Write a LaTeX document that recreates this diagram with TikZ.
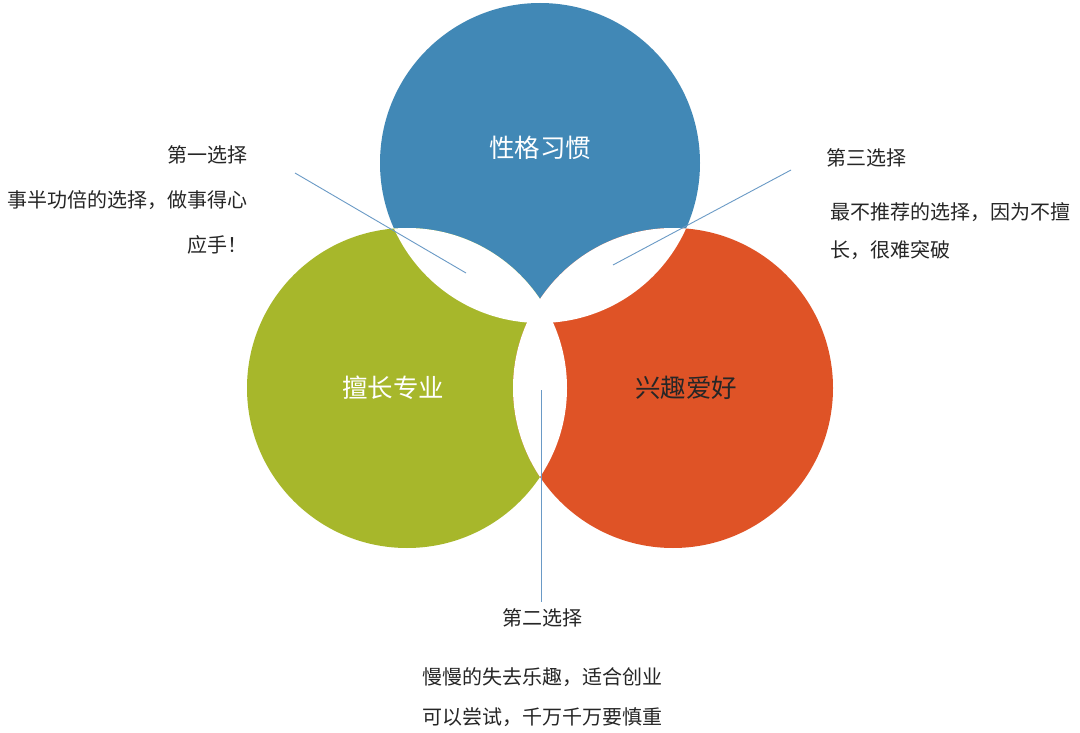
\documentclass[tikz,border=0pt]{standalone}
\usepackage{fontspec}
\setmainfont{Noto Sans CJK SC}
\definecolor{cblue}{HTML}{4188B6}
\definecolor{cgreen}{HTML}{A7B72B}
\definecolor{corange}{HTML}{DF5326}
\definecolor{cline}{HTML}{6A9AC6}
\definecolor{ctext}{HTML}{262626}
\tikzset{
  lbl/.style={inner sep=0pt, text=ctext, font=\fontsize{20}{22}\selectfont},
  big/.style={inner sep=0pt, font=\fontsize{25.5}{27}\selectfont},
  conn/.style={draw=cline, line width=0.9pt},
}
\begin{document}
\begin{tikzpicture}[x=1pt,y=-1pt]
\useasboundingbox (0,0) rectangle (1080,733);
\fill[white] (0,0) rectangle (1080,733);
% circle centres
\coordinate (cB) at (540,163);
\coordinate (cG) at (407,388);
\coordinate (cO) at (673,388);
\def\R{160pt}
\fill[cblue] (cB) circle[radius=\R];
\fill[cgreen] (cG) circle[radius=\R];
\fill[corange] (cO) circle[radius=\R];
% pairwise overlaps white
\begin{scope}
  \clip (cB) circle[radius=\R];
  \fill[white] (cG) circle[radius=\R];
  \fill[white] (cO) circle[radius=\R];
\end{scope}
\begin{scope}
  \clip (cG) circle[radius=\R];
  \fill[white] (cO) circle[radius=\R];
\end{scope}
% circle labels
\node[big, text=white] (nB) at (540,148) {性格习惯};
\node[big, text=white] (nG) at (393,388) {擅长专业};
\node[big, text=black!85] (nO) at (686,388) {兴趣爱好};
% connectors
\coordinate (l1s) at (295,173);
\coordinate (l1e) at (466,273);
\coordinate (l2s) at (791,170);
\coordinate (l2e) at (613,265);
\coordinate (l3s) at (541,390);
\coordinate (l3e) at (541,602);
\draw[conn] (l1s) -- (l1e);
\draw[conn] (l2s) -- (l2e);
\draw[conn] (l3s) -- (l3e);
% left texts
\node[lbl, anchor=east] (t1) at (248,155) {第一选择};
\node[lbl, anchor=east] (t1a) at (248,200) {事半功倍的选择，做事得心};
\node[lbl, anchor=east] (t1b) at (248,245) {应手！};
% right texts
\node[lbl, anchor=west] (t3) at (826,158) {第三选择};
\node[lbl, anchor=west] (t3a) at (830,212) {最不推荐的选择，因为不擅};
\node[lbl, anchor=west] (t3b) at (830,250) {长，很难突破};
% bottom texts
\node[lbl] (t2) at (542,618) {第二选择};
\node[lbl, anchor=west] (t2a) at (422,677) {慢慢的失去乐趣，适合创业};
\node[lbl, anchor=west] (t2b) at (422,717) {可以尝试，千万千万要慎重};
\end{tikzpicture}
\end{document}
